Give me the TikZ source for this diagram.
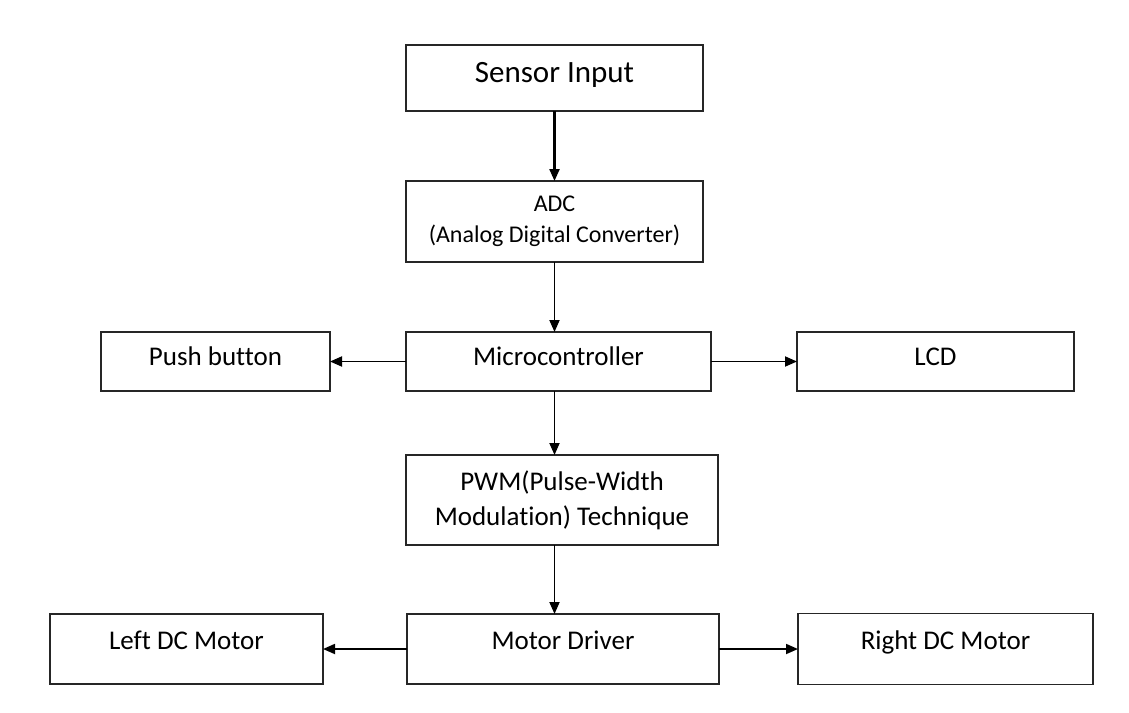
\documentclass[tikz,border=0pt]{standalone}
\usepackage{fontspec}
\setmainfont{Carlito}[Ligatures=NoCommon]
\usetikzlibrary{arrows.meta, positioning}

\begin{document}
\begin{tikzpicture}[
  x=1pt, y=1pt,
  block/.style={draw=black!85, line width=1.3pt, inner sep=0pt, outer sep=0pt, align=center, font=\fontsize{27}{34}\selectfont},
  oneline/.style={text height=19pt, text depth=11pt},
  lowline/.style={text height=19pt, text depth=18pt},
  line/.style={-{Triangle[length=12pt, width=10pt]}, line width=1.8pt}
]
\useasboundingbox (0,0) rectangle (1129,-712);

\node[block, oneline, font=\fontsize{31}{37}\selectfont, minimum width=297pt, minimum height=66pt] (sensor) at (554.5,-78) {Sensor Input};
\node[block, font=\fontsize{24}{31}\selectfont, minimum width=297pt, minimum height=81pt, below=70pt of sensor] (adc) {ADC\\(Analog Digital Converter)};

\node[block, oneline, minimum width=305pt, minimum height=59pt, below=70pt of adc, xshift=4pt] (micro) {Microcontroller};
\node[block, oneline, minimum width=229pt, minimum height=59pt, left=76pt of micro] (push) {Push button};
\node[block, oneline, minimum width=277pt, minimum height=59pt, right=86pt of micro] (lcd) {LCD};

\node[block, font=\fontsize{27}{35}\selectfont, minimum width=312pt, minimum height=90pt, below=64pt of micro, xshift=3.5pt] (pwm) {PWM(Pulse-Width\\Modulation) Technique};

\node[block, lowline, minimum width=312pt, minimum height=70pt, below=69pt of pwm, xshift=1pt] (driver) {Motor Driver};
\node[block, lowline, minimum width=273pt, minimum height=70pt, left=84pt of driver] (leftm) {Left DC Motor};
\node[block, lowline, minimum width=295pt, minimum height=71pt, right=79pt of driver] (rightm) {Right DC Motor};

\draw[line, line width=2.2pt] (sensor) -- (adc);
\draw[line] (adc.south) -- (adc.south |- micro.north);
\draw[line] (micro.south -| adc.south) -- (pwm.north -| adc.south);
\draw[line] (pwm.south -| adc.south) -- (driver.north -| adc.south);

\draw[line] (micro) -- (push);
\draw[line] (micro) -- (lcd);
\draw[line] (driver) -- (leftm);
\draw[line] (driver) -- (rightm);
\end{tikzpicture}
\end{document}
